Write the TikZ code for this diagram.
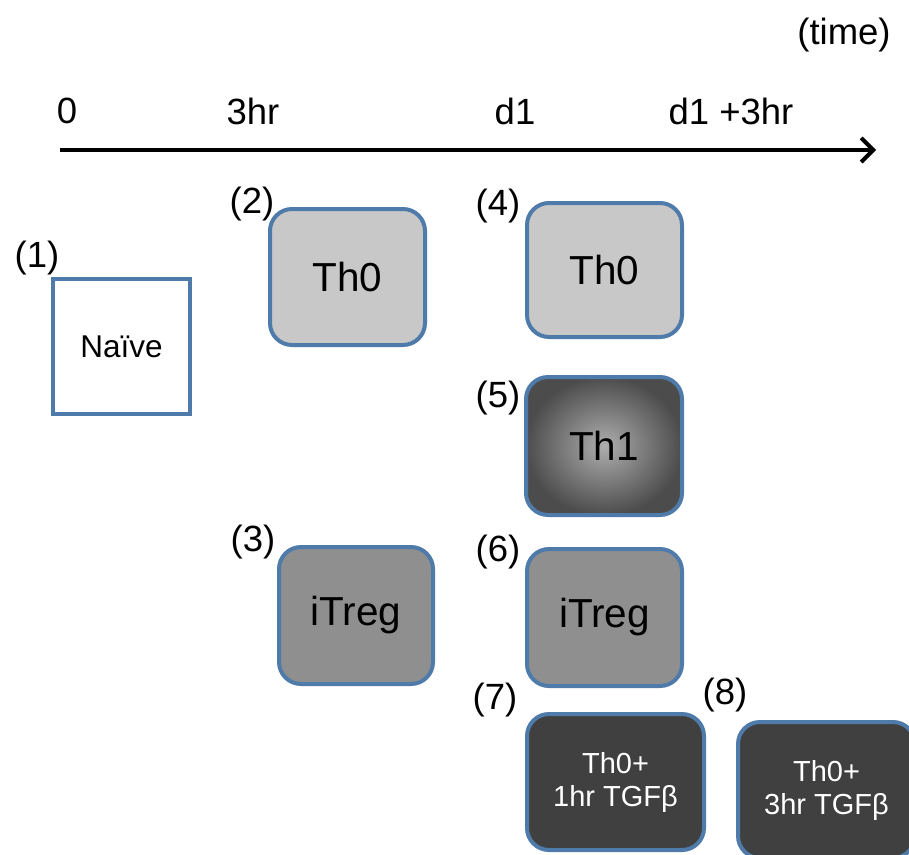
\documentclass[tikz,border=0pt]{standalone}
\usepackage{fontspec}
\setmainfont{Liberation Sans}
\usetikzlibrary{arrows.meta}
\definecolor{edgeblue}{HTML}{4F7BAA}
\definecolor{lightg}{HTML}{C8C8C8}
\definecolor{midg}{HTML}{8F8F8F}
\definecolor{darkg}{HTML}{404040}
\begin{document}
\begin{tikzpicture}[x=1pt,y=-1pt,
  cell/.style={draw=edgeblue,line width=4pt,rounded corners=22pt,inner sep=0pt,align=center},
  lab/.style={font=\fontsize{36.5}{42}\selectfont,inner sep=0pt},
  big/.style={font=\fontsize{40.5}{46}\selectfont},
  small/.style={font=\fontsize{29}{33}\selectfont,text=white}
]
\clip (0,0) rectangle (909,854);
\fill[white] (0,0) rectangle (909,854);
% time axis
\coordinate (a0) at (60,150);
\coordinate (a1) at (876,150);
\draw[line width=4pt,-{Straight Barb[length=12pt,width=24pt,line width=4pt]}] (a0) -- (a1);
\node[lab] (tm) at (844,35) {(time)};
\node[lab] (t0) at (67,111) {0};
\node[lab] (t3) at (253,111) {3hr};
\node[lab] (td) at (515,111) {d1};
\node[lab] (td3) at (731,111) {d1 +3hr};
% boxes
\node[draw=edgeblue,line width=4pt,fill=white,minimum width=137pt,minimum height=135pt,inner sep=0pt,font=\fontsize{31.5}{36}\selectfont] (b1) at (121.5,346.5) {Naïve};
\node[cell,fill=lightg,minimum width=155pt,minimum height=136pt,big] (b2) at (347.5,277) {Th0};
\node[cell,fill=midg,minimum width=154pt,minimum height=137pt,big] (b3) at (356,615.5) {iTreg};
\node[cell,fill=lightg,minimum width=155pt,minimum height=134pt,big] (b4) at (604.5,270) {Th0};
\node[cell,inner color=black!32,outer color=black!70,minimum width=156pt,minimum height=138pt,big] (b5) at (604,446) {Th1};
\node[cell,fill=midg,minimum width=155pt,minimum height=137pt,big] (b6) at (604.5,617.5) {iTreg};
\node[cell,fill=darkg,minimum width=177pt,minimum height=136pt,small] (b7) at (615.5,782) {Th0+\\1hr TGFβ};
\node[cell,fill=darkg,minimum width=177pt,minimum height=136pt,small] (b8) at (826.5,790) {Th0+\\3hr TGFβ};
% number labels
\node[lab] (n1) at (37,258) {(1)};
\node[lab] (n2) at (252,204) {(2)};
\node[lab] (n3) at (253,542) {(3)};
\node[lab] (n4) at (498,206) {(4)};
\node[lab] (n5) at (498,398) {(5)};
\node[lab] (n6) at (498,552) {(6)};
\node[lab] (n7) at (495,700) {(7)};
\node[lab] (n8) at (725,695) {(8)};
\end{tikzpicture}
\end{document}
